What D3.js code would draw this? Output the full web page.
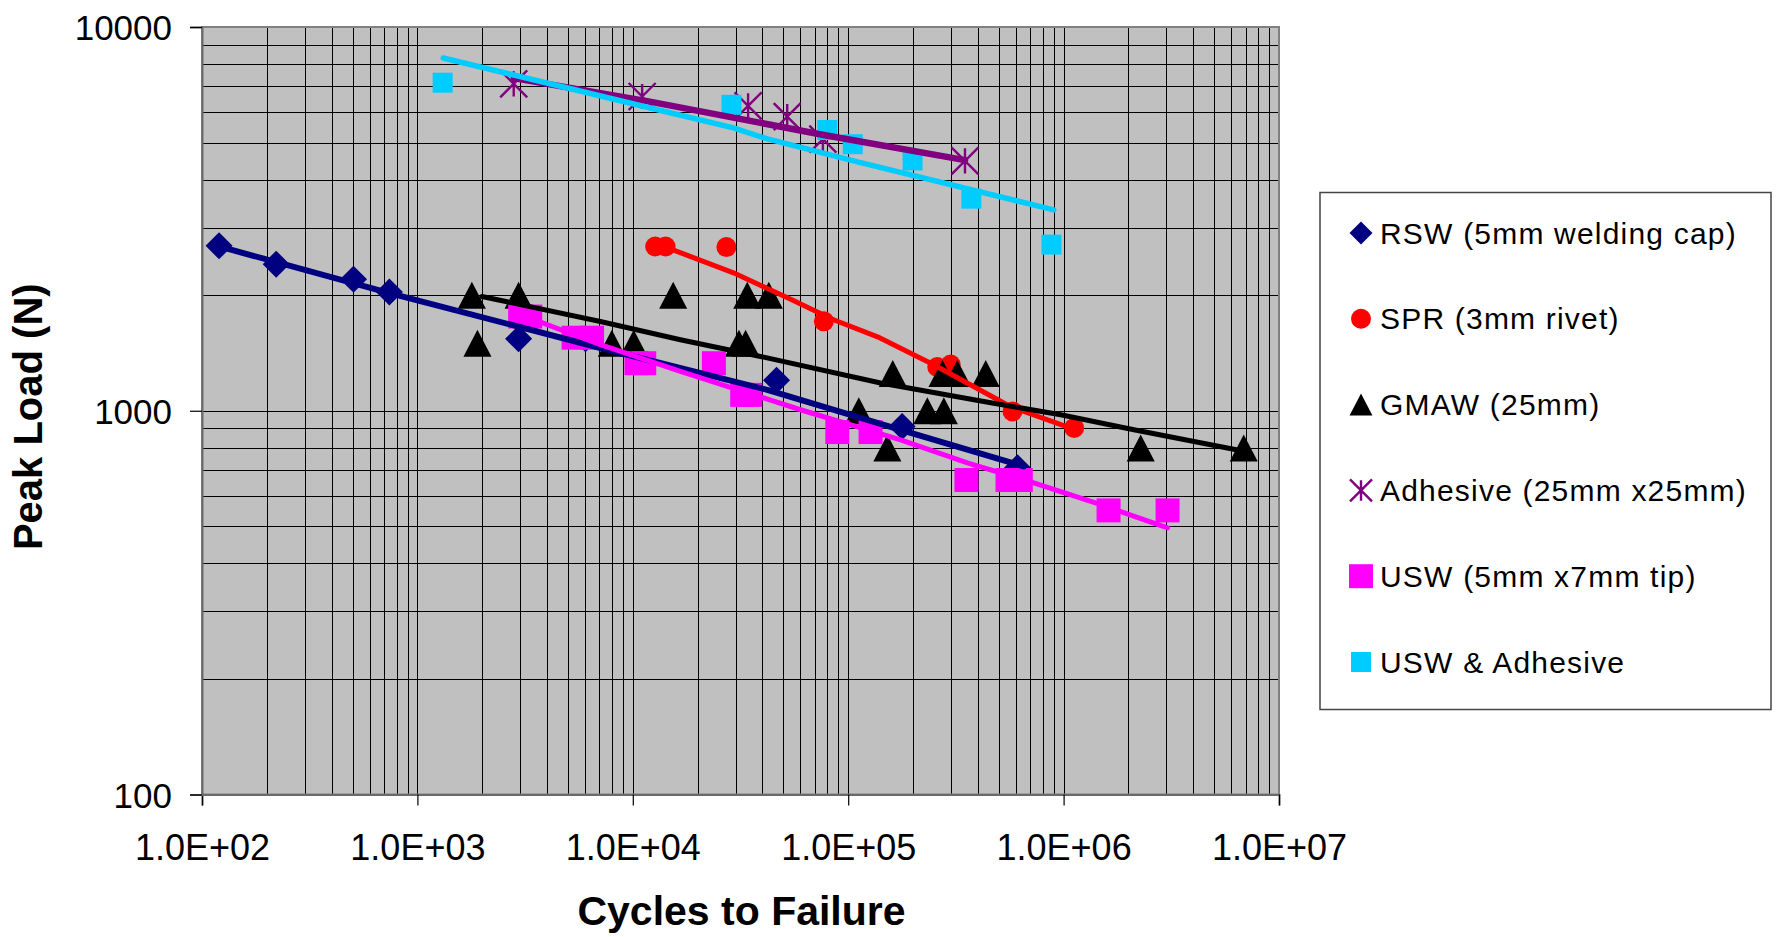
<!DOCTYPE html>
<html>
<head>
<meta charset="utf-8">
<script src="https://cdn.jsdelivr.net/npm/d3@7"></script>
<style>
  body { margin: 0; background: #fff; }
  svg { display: block; font-family: "Liberation Sans", Arial, sans-serif; }
</style>
</head>
<body>
<svg id="chart" width="1777" height="937"></svg>
<script>
// ---- data: [cycles to failure, peak load (N)] ----
const seriesNames = [
  "RSW (5mm welding cap)",
  "SPR (3mm rivet)",
  "GMAW (25mm)",
  "Adhesive (25mm x25mm)",
  "USW (5mm x7mm tip)",
  "USW & Adhesive"
];
const seriesColors = ["#000080", "#FF0000", "#000000", "#800080", "#FF00FF", "#00CCFF"];

const rswPoints = [[120, 2690], [221, 2410], [505, 2200], [741, 2040], [2950, 1540],
  [6030, 1540], [46500, 1200], [178000, 910], [611000, 710]];
const sprPoints = [[12700, 2680], [14200, 2680], [27200, 2670], [77100, 1710],
  [259000, 1300], [299000, 1320], [579000, 996], [1119000, 902]];
const gmawPoints = [[1790, 2000], [1900, 1500], [2950, 2000], [7990, 1500], [10100, 1500],
  [15400, 2000], [31100, 1500], [33400, 1500], [34000, 2000], [42800, 2000],
  [112000, 1000], [152000, 800], [161000, 1250], [233000, 1000], [278000, 1000],
  [274000, 1250], [321000, 1250], [435000, 1250], [2280000, 800], [6860000, 800]];
const adhesivePoints = [[2800, 7110], [11050, 6590], [34300, 6230], [52100, 5840],
  [76300, 5100], [348500, 4480]];
const uswPoints = [[3000, 1760], [3340, 1760], [5310, 1550], [6470, 1550], [10400, 1330],
  [11300, 1330], [23800, 1330], [32200, 1100], [35100, 1100], [89000, 880], [127000, 880],
  [354000, 660], [549000, 660], [633000, 660], [1617000, 550], [3039000, 550]];
const uswAdhesivePoints = [[1310, 7160], [28700, 6270], [79900, 5390], [105000, 4950],
  [199000, 4490], [373000, 3570], [878000, 2710]];

// fitted S-N curves
const rswFit = [[120, 2680], [742, 2026], [7070, 1457], [42100, 1134], [175000, 892], [653000, 716]];
const sprFit = [[14200, 2670], [29340, 2288], [52290, 1970], [85540, 1726], [136900, 1558],
  [249400, 1318], [568200, 1024], [1139000, 892]];
const gmawFit = [[1994, 1985], [7070, 1709], [16640, 1531], [39160, 1385], [141500, 1181],
  [458900, 1049], [970500, 976], [2120000, 892], [6877000, 784]];
const adhesiveFit = [[2800, 7360], [12000, 6390], [77000, 5230], [348500, 4500]];
const uswFit = [[3170, 1761], [7070, 1486], [16640, 1266], [60090, 1006], [175200, 840],
  [357600, 731], [726900, 649], [1489000, 569], [3039000, 495]];
const uswAdhesiveFit = [[1318, 8305], [12070, 6152], [29340, 5458], [42220, 5109],
  [110600, 4450], [900500, 3337]];

const xTickValues = [1e2, 1e3, 1e4, 1e5, 1e6, 1e7];
const xTickLabels = ["1.0E+02", "1.0E+03", "1.0E+04", "1.0E+05", "1.0E+06", "1.0E+07"];
const yTickValues = [100, 1000, 10000];
const yTickLabels = ["100", "1000", "10000"];
const gridSteps = [1, 2, 3, 4, 5, 6, 7, 8, 9];
const xTitle = "Cycles to Failure";
const yTitle = "Peak Load (N)";

// ---- layout ----
const plot = { left: 202, right: 1279, top: 27, bottom: 794.5 };
const svg = d3.select("#chart");

const x = d3.scaleLog().domain([1e2, 1e7]).range([plot.left, plot.right]);
const y = d3.scaleLog().domain([100, 10000]).range([plot.bottom, plot.top]);

// plot background
svg.append("rect")
  .attr("x", plot.left).attr("y", plot.top)
  .attr("width", plot.right - plot.left).attr("height", plot.bottom - plot.top)
  .attr("fill", "#C0C0C0");

// log gridlines: 1..9 within every decade
const decadeGrid = (decades) => decades.slice(0, -1).flatMap(d => gridSteps.map(k => d * k))
  .concat(decades.slice(-1));
const xGrid = decadeGrid(xTickValues).filter(v => v > 1e2 && v < 1e7);
const yGrid = decadeGrid(yTickValues).filter(v => v > 100 && v < 10000);
const grid = svg.append("g").attr("shape-rendering", "crispEdges");
grid.selectAll(".vx").data(xGrid).join("line")
  .attr("x1", d => Math.round(x(d)) + 0.5).attr("x2", d => Math.round(x(d)) + 0.5)
  .attr("y1", plot.top).attr("y2", plot.bottom)
  .attr("stroke", "#000").attr("stroke-width", 1);
grid.selectAll(".hy").data(yGrid).join("line")
  .attr("y1", d => Math.round(y(d)) + 0.5).attr("y2", d => Math.round(y(d)) + 0.5)
  .attr("x1", plot.left).attr("x2", plot.right)
  .attr("stroke", "#000").attr("stroke-width", 1);

// plot border
svg.append("rect")
  .attr("x", plot.left).attr("y", plot.top)
  .attr("width", plot.right - plot.left).attr("height", plot.bottom - plot.top)
  .attr("fill", "none").attr("stroke", "#808080").attr("stroke-width", 2);

// axes
const xAxis = d3.axisBottom(x).tickValues(xTickValues)
  .tickFormat((d, i) => xTickLabels[i]).tickSize(11).tickPadding(0);
const gx = svg.append("g").attr("transform", `translate(0,${plot.bottom})`).call(xAxis);
gx.select(".domain").attr("stroke", "#6a6a6a").attr("stroke-width", 2);
gx.selectAll(".tick line").attr("stroke", "#000").attr("stroke-width", 1.2);
gx.selectAll(".tick text").attr("font-size", 36).attr("fill", "#000")
  .attr("font-family", "Liberation Sans, Arial, sans-serif")
  .attr("dy", null).attr("y", 65);

const yAxis = d3.axisLeft(y).tickValues(yTickValues)
  .tickFormat((d, i) => yTickLabels[i]).tickSize(12).tickPadding(18);
const gy = svg.append("g").attr("transform", `translate(${plot.left},0)`).call(yAxis);
gy.select(".domain").attr("stroke", "#6a6a6a").attr("stroke-width", 2);
gy.selectAll(".tick line").attr("stroke", "#000").attr("stroke-width", 1.2);
gy.selectAll(".tick text").attr("font-size", 35).attr("fill", "#000")
  .attr("font-family", "Liberation Sans, Arial, sans-serif")
  .attr("dy", "0.36em");

// axis titles
svg.append("text")
  .attr("x", (plot.left + plot.right) / 2 + 1).attr("y", 925)
  .attr("text-anchor", "middle").attr("font-weight", "bold").attr("font-size", 41)
  .text(xTitle);
svg.append("text")
  .attr("transform", `translate(42,${(plot.top + plot.bottom) / 2 + 6}) rotate(-90)`)
  .attr("text-anchor", "middle").attr("font-weight", "bold").attr("font-size", 40)
  .text(yTitle);

// ---- marker shapes ----
function markerPath(kind, s) {
  const h = s / 2;
  switch (kind) {
    case "diamond": return `M0,${-h}L${h},0L0,${h}L${-h},0Z`;
    case "circle": return d3.arc()({ innerRadius: 0, outerRadius: h, startAngle: 0, endAngle: 2 * Math.PI });
    case "triangle": return `M0,${-h}L${h * 1.04},${h}L${-h * 1.04},${h}Z`;
    case "asterisk": return `M0,${-h * 0.93}V${h * 0.93}M${-h},${-h}L${h},${h}M${h},${-h}L${-h},${h}`;
    case "square": return `M${-h},${-h}H${h}V${h}H${-h}Z`;
  }
}

const series = [
  { pts: rswPoints, fit: rswFit, kind: "diamond", size: 27, lsize: 23, width: 6 },
  { pts: sprPoints, fit: sprFit, kind: "circle", size: 20, lsize: 20, width: 5 },
  { pts: gmawPoints, fit: gmawFit, kind: "triangle", size: 27, lsize: 22, width: 5 },
  { pts: adhesivePoints, fit: adhesiveFit, kind: "asterisk", size: 27, lsize: 22, width: 6.5 },
  { pts: uswPoints, fit: uswFit, kind: "square", size: 24, lsize: 24, width: 5 },
  { pts: uswAdhesivePoints, fit: uswAdhesiveFit, kind: "square", size: 20, lsize: 20, width: 5.5 }
];

function drawMarker(g, kind, size, color) {
  const p = g.append("path").attr("d", markerPath(kind, size));
  if (kind === "asterisk") p.attr("fill", "none").attr("stroke", color).attr("stroke-width", 2.4);
  else p.attr("fill", color);
}

// data markers
const markers = svg.append("g");
series.forEach((s, i) => {
  const g = markers.append("g");
  g.selectAll("g").data(s.pts).join("g")
    .attr("transform", d => `translate(${x(d[0])},${y(d[1])})`)
    .each(function () { drawMarker(d3.select(this), s.kind, s.size, seriesColors[i]); });
});

// fitted curves
const line = d3.line().x(d => x(d[0])).y(d => y(d[1]));
const fits = svg.append("g");
series.forEach((s, i) => {
  fits.append("path").datum(s.fit)
    .attr("d", line)
    .attr("fill", "none")
    .attr("stroke", seriesColors[i])
    .attr("stroke-width", s.width)
    .attr("stroke-linejoin", "round")
    .attr("stroke-linecap", "round");
});

// ---- legend ----
const legend = svg.append("g");
legend.append("rect")
  .attr("x", 1320).attr("y", 192.5).attr("width", 451).attr("height", 517)
  .attr("fill", "#fff").attr("stroke", "#444").attr("stroke-width", 1.5);
const rowY = d3.scaleLinear().domain([0, 5]).range([233, 662]);
series.forEach((s, i) => {
  const row = legend.append("g").attr("transform", `translate(0,${rowY(i)})`);
  const m = row.append("g").attr("transform", "translate(1361,0)");
  drawMarker(m, s.kind, s.lsize, seriesColors[i]);
  row.append("text")
    .attr("x", 1380).attr("y", 10.5)
    .attr("font-size", 30).attr("letter-spacing", 1.2).attr("fill", "#000")
    .text(seriesNames[i]);
});
</script>
</body>
</html>
